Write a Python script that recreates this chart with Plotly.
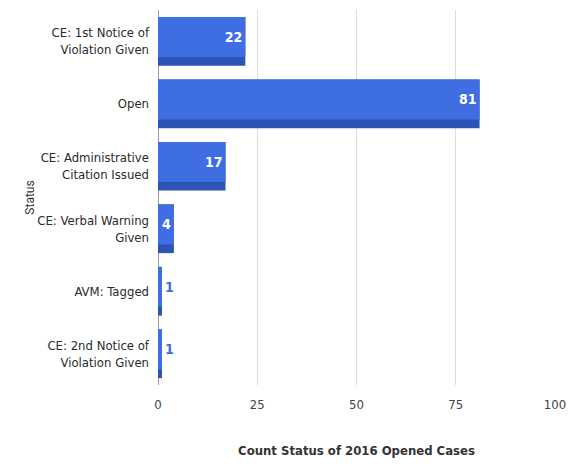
import plotly.graph_objects as go

# Case status counts for cases opened in 2016
statuses = [
    "CE: 1st Notice of<br>Violation Given",
    "Open",
    "CE: Administrative<br>Citation Issued",
    "CE: Verbal Warning<br>Given",
    "AVM: Tagged",
    "CE: 2nd Notice of<br>Violation Given",
]
counts = [22, 81, 17, 4, 1, 1]
x_ticks = [0, 25, 50, 75, 100]

FONT = "DejaVu Sans Condensed, Liberation Sans Narrow, Roboto"
FACE = "#3f6ee3"
EDGE = "#2c54b5"

fig = go.Figure()

# darker body gives the bevelled bottom edge of each bar
fig.add_trace(go.Bar(
    y=statuses, x=counts, orientation="h",
    marker=dict(color=EDGE, line=dict(width=0)),
    width=0.78, offset=-0.39,
    hoverinfo="skip", showlegend=False,
))

# lighter front face carrying the value labels
fig.add_trace(go.Bar(
    y=statuses, x=counts, orientation="h",
    marker=dict(color=FACE, line=dict(width=0)),
    width=0.64, offset=-0.39,
    text=[str(c) for c in counts],
    textposition="auto",
    insidetextanchor="end",
    insidetextfont=dict(color="white", size=14, family=FONT, weight="bold"),
    outsidetextfont=dict(color=FACE, size=14, family=FONT, weight="bold"),
    cliponaxis=False,
    showlegend=False,
))

fig.update_layout(
    width=576, height=469,
    margin=dict(l=158, r=13, t=10, b=84),
    paper_bgcolor="white", plot_bgcolor="white",
    barmode="overlay",
    font=dict(family=FONT, color="#333"),
    xaxis=dict(
        range=[0, 100], tickvals=x_ticks,
        showgrid=True, gridcolor="#dcdcdc", gridwidth=1,
        zeroline=True, zerolinecolor="#9a9a9a", zerolinewidth=1,
        tickfont=dict(size=13, color="#444", family=FONT),
        ticks="", ticklabelstandoff=10,
        title=dict(text="<b>Count Status of 2016 Opened Cases</b>",
                   font=dict(size=13, color="#333", family=FONT), standoff=34),
        fixedrange=True,
    ),
    yaxis=dict(
        autorange="reversed",
        tickfont=dict(size=13, color="#2a2a2a", family=FONT),
        ticks="", ticklabelstandoff=8,
        title=dict(text="Status", font=dict(size=12, color="#333", family="Roboto, Arial"),
                   standoff=0),
        showgrid=False,
    ),
)

fig.write_html("out.html")
